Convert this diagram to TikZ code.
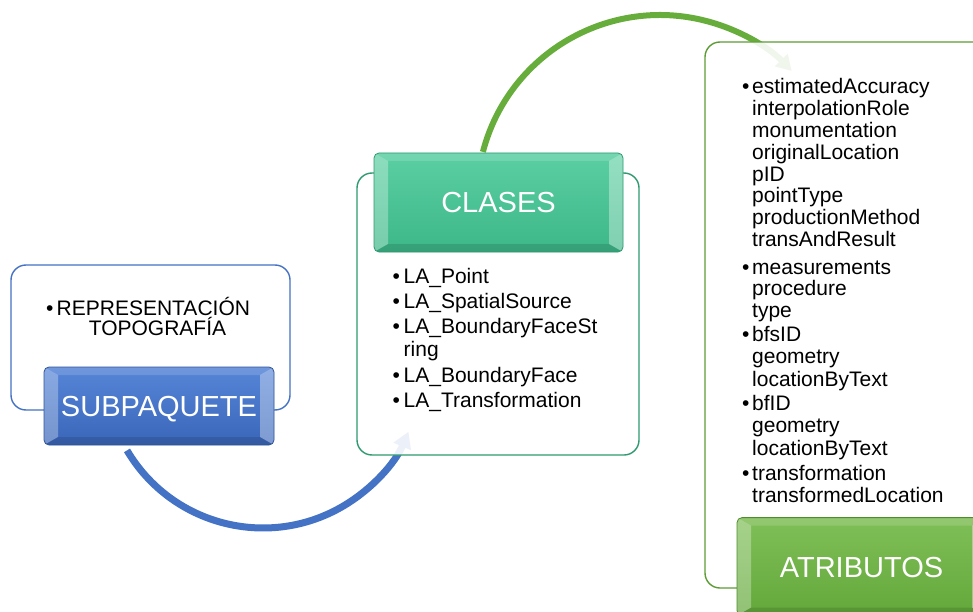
\documentclass[tikz,border=0pt]{standalone}
\usepackage{fontspec}
\setmainfont{Liberation Sans}
\usetikzlibrary{arrows.meta,calc}
\definecolor{blueTop}{HTML}{5685D7}
\definecolor{blueBot}{HTML}{3A66B9}
\definecolor{blueEdge}{HTML}{2F5597}
\definecolor{blueLine}{HTML}{4472C4}
\definecolor{tealTop}{HTML}{5BCFA3}
\definecolor{tealBot}{HTML}{3DB788}
\definecolor{tealEdge}{HTML}{2E9A70}
\definecolor{grnTop}{HTML}{80BF58}
\definecolor{grnBot}{HTML}{63A83A}
\definecolor{grnEdge}{HTML}{4F8C2C}
\definecolor{grnLine}{HTML}{67AD3B}
\begin{document}
\begin{tikzpicture}[x=1pt,y=-1pt,
  lst/.style={font=\fontsize{21}{22}\selectfont, inner sep=0pt, anchor=base west},
  whitebox/.style={draw, line width=1.4pt, fill=white, fill opacity=0.9, rounded corners=15pt, inner sep=0pt},
  bevelbox/.style={rounded corners=5pt, inner sep=0pt, text=white,
    font=\fontsize{29}{30}\selectfont, text height=20.8pt, text depth=0pt, line width=0.8pt,
    path picture={
      \coordinate (pnw) at (path picture bounding box.north west);
      \coordinate (pse) at (path picture bounding box.south east);
      \coordinate (pne) at (pnw-|pse);
      \coordinate (psw) at (pnw|-pse);
      \fill[white, opacity=0.30, sharp corners] (pnw) -- ($(pnw)+(14,8)$) -- ($(psw)+(14,-8)$) -- (psw) -- cycle;
      \fill[white, opacity=0.35, sharp corners] (pne) -- ($(pne)+(-14,8)$) -- ($(pse)+(-14,-8)$) -- (pse) -- cycle;
      \fill[white, opacity=0.15, sharp corners] (pnw) -- (pne) -- ($(pne)+(-14,8)$) -- ($(pnw)+(14,8)$) -- cycle;
      \fill[black, opacity=0.12, sharp corners] (psw) -- (pse) -- ($(pse)+(-14,-8)$) -- ($(psw)+(14,-8)$) -- cycle;
    }},
  bluebox/.style={bevelbox, draw=blueEdge, top color=blueTop, bottom color=blueBot},
  tealbox/.style={bevelbox, draw=tealEdge, top color=tealTop, bottom color=tealBot},
  grnbox/.style={bevelbox, draw=grnEdge, top color=grnTop, bottom color=grnBot},
  ]
\useasboundingbox (0,0) rectangle (973,612);
\clip (0,0) rectangle (973,612);

% connectors (under the boxes)
\coordinate (bs) at (127,450.4);
\draw[line width=7pt, draw=blueLine, -{Triangle[length=16pt,width=18pt]}]
  (bs) arc[start angle=149.4, end angle=23, radius=158];
\coordinate (gs) at (482.9,151.9);
\draw[line width=6pt, draw=grnLine, -{Triangle[length=15pt,width=17pt]}]
  (gs) arc[start angle=194.6, end angle=316, radius=183];

% white boxes
\node[whitebox, draw=blueLine, minimum width=279pt, minimum height=145pt] (subw) at (150.5,337.5) {};
\node[whitebox, draw=tealEdge, minimum width=282pt, minimum height=282pt] (claw) at (498,314) {};
\node[whitebox, draw=grnLine!90!black, minimum width=285pt, minimum height=546pt] (atrw) at (847.5,315) {};

% coloured headers
\node[bluebox, minimum width=230pt, minimum height=78pt] (sub) at (159,406) {SUBPAQUETE};
\node[tealbox, minimum width=249pt, minimum height=99pt] (cla) at (498.5,202.5) {CLASES};
\node[grnbox, minimum width=249pt, minimum height=98pt] (atr) at (861.5,566.6) {ATRIBUTOS};

% left text
\node[lst] (lb1) at (46,315) {•};
\node[lst] (lt1) at (56.5,315) {REPRESENTACIÓN};
\node[lst, anchor=base] (lt2) at (157.5,335) {TOPOGRAFÍA};

% middle text
\foreach \yy [count=\i] in {283.3,308.6,333.9,382.2,407.5}
  \node[lst] (mb\i) at (392.5,\yy) {•};
\foreach \t/\yy [count=\i] in {LA\_Point/283.3, LA\_SpatialSource/308.6, LA\_BoundaryFaceSt/333.9, ring/356.9, LA\_BoundaryFace/382.2, LA\_Transformation/407.5}
  \node[lst] (mt\i) at (403.5,\yy) {\t};

% right text
\foreach \yy [count=\i] in {94,274,341,410.5,480}
  \node[lst] (rb\i) at (742,\yy) {•};
\foreach \t/\yy [count=\i] in {estimatedAccuracy/94, interpolationRole/115.8, monumentation/137.6, originalLocation/159.4, pID/181.2, pointType/203, productionMethod/224.8, transAndResult/246.6, measurements/274, procedure/295.8, type/317.6, bfsID/341, geometry/363.2, locationByText/386.4, bfID/410.5, geometry/432.7, locationByText/455, transformation/480, transformedLocation/502.7}
  \node[lst] (rt\i) at (752,\yy) {\t};
\end{tikzpicture}
\end{document}
